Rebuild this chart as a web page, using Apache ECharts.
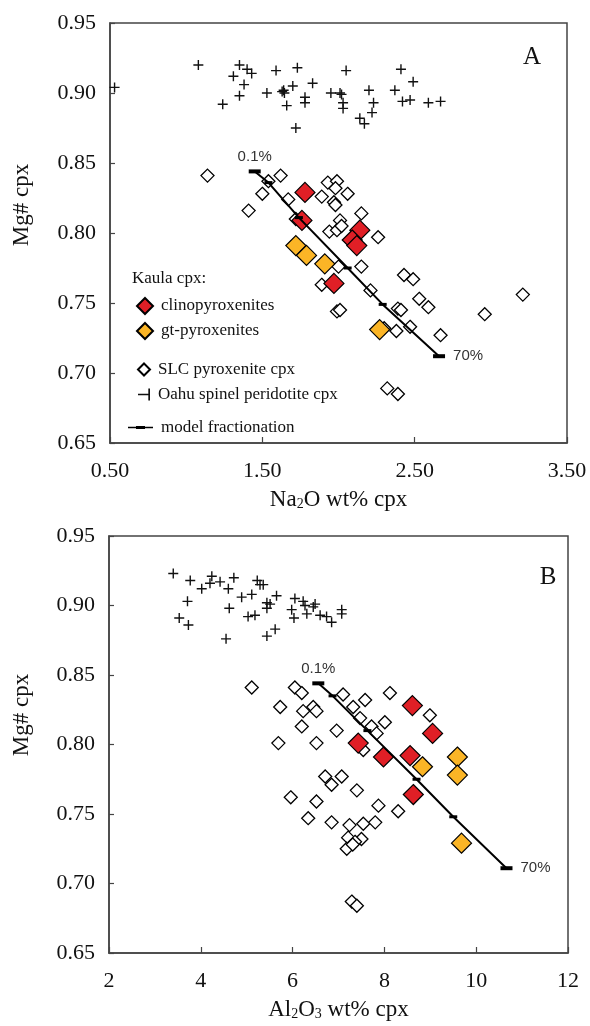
<!DOCTYPE html>
<html>
<head>
<meta charset="utf-8">
<script src="https://cdn.jsdelivr.net/npm/echarts@6/dist/echarts.min.js"></script>
<style>
  html, body { margin: 0; padding: 0; background: #fff; }
  #main { width: 590px; height: 1026px; }
</style>
</head>
<body>
<div id="main"></div>
<script>
// panel A: Na2O wt% cpx vs Mg# cpx
const oahuA = [
  [0.53, 0.904], [1.08, 0.920], [1.35, 0.920], [1.40, 0.917], [1.43, 0.914],
  [1.31, 0.912], [1.38, 0.906], [1.35, 0.898], [1.24, 0.892], [1.59, 0.916],
  [1.73, 0.918], [1.53, 0.900], [1.63, 0.901], [1.645, 0.900], [1.64, 0.902],
  [1.70, 0.905], [1.66, 0.891], [1.78, 0.897], [1.78, 0.893], [1.83, 0.907],
  [1.72, 0.875], [1.95, 0.900], [2.01, 0.900], [2.02, 0.899], [2.03, 0.893],
  [2.03, 0.889], [2.05, 0.916], [2.20, 0.902], [2.23, 0.893], [2.22, 0.886],
  [2.14, 0.882], [2.17, 0.878], [2.41, 0.917], [2.49, 0.908], [2.37, 0.902],
  [2.42, 0.894], [2.47, 0.895], [2.59, 0.893], [2.67, 0.894]
];
const slcA = [
  [1.14, 0.841], [1.62, 0.841], [1.54, 0.837], [1.50, 0.828], [1.41, 0.816],
  [1.67, 0.824], [1.72, 0.810], [1.93, 0.836], [1.99, 0.837], [1.98, 0.832],
  [1.89, 0.826], [2.06, 0.828], [1.97, 0.822], [1.98, 0.820], [2.15, 0.814],
  [2.01, 0.809], [1.94, 0.801], [1.99, 0.802], [2.02, 0.805], [2.26, 0.797],
  [2.15, 0.776], [2.00, 0.776], [2.43, 0.770], [2.49, 0.767], [1.89, 0.763],
  [2.21, 0.759], [2.53, 0.753], [2.59, 0.747], [1.99, 0.744], [2.01, 0.745],
  [2.39, 0.746], [2.41, 0.745], [2.96, 0.742], [3.21, 0.756], [2.30, 0.732],
  [2.38, 0.730], [2.47, 0.733], [2.67, 0.727], [2.32, 0.689], [2.39, 0.685]
];
const clinoA = [
  [1.78, 0.829], [1.76, 0.809], [2.14, 0.802], [2.09, 0.795], [2.12, 0.791], [1.97, 0.764]
];
const gtA = [
  [1.72, 0.791], [1.79, 0.784], [1.91, 0.778], [2.27, 0.731]
];
const modelA = [
  [1.45, 0.844], [1.54, 0.836], [1.74, 0.811], [2.06, 0.775], [2.29, 0.749], [2.66, 0.712]
];

// panel B: Al2O3 wt% cpx vs Mg# cpx
const oahuB = [
  [3.40, 0.923], [3.77, 0.918], [4.02, 0.912], [4.24, 0.921], [4.20, 0.916],
  [4.42, 0.917], [4.60, 0.912], [4.72, 0.920], [5.23, 0.918], [5.29, 0.915],
  [5.36, 0.915], [4.89, 0.906], [5.11, 0.908], [5.65, 0.907], [3.71, 0.903],
  [4.62, 0.898], [3.53, 0.891], [3.73, 0.886], [4.55, 0.876], [5.03, 0.892],
  [5.18, 0.893], [5.44, 0.902], [5.51, 0.901], [5.44, 0.898], [5.44, 0.878],
  [5.62, 0.883], [6.05, 0.905], [6.23, 0.903], [6.27, 0.900], [6.49, 0.901],
  [6.45, 0.899], [5.98, 0.897], [6.03, 0.891], [6.31, 0.894], [6.60, 0.893],
  [6.74, 0.892], [6.85, 0.888], [7.07, 0.897], [7.07, 0.894]
];
const slcB = [
  [5.11, 0.841], [6.05, 0.841], [6.20, 0.837], [5.73, 0.827], [6.23, 0.824],
  [6.45, 0.827], [6.52, 0.824], [6.20, 0.813], [5.69, 0.801], [6.52, 0.801],
  [6.96, 0.810], [7.10, 0.836], [7.58, 0.832], [8.12, 0.837], [7.32, 0.827],
  [7.47, 0.819], [7.72, 0.813], [7.83, 0.808], [8.01, 0.816], [8.99, 0.821],
  [7.54, 0.796], [6.71, 0.777], [7.07, 0.777], [6.85, 0.771], [7.40, 0.767],
  [5.96, 0.762], [6.52, 0.759], [6.34, 0.747], [6.85, 0.744], [7.24, 0.742],
  [7.54, 0.743], [7.87, 0.756], [7.80, 0.744], [8.30, 0.752], [7.21, 0.733],
  [7.50, 0.732], [7.36, 0.730], [7.18, 0.725], [7.31, 0.728], [7.29, 0.687],
  [7.40, 0.684]
];
const clinoB = [
  [8.61, 0.828], [9.05, 0.808], [7.43, 0.801], [7.98, 0.791], [8.56, 0.792], [8.63, 0.764]
];
const gtB = [
  [8.83, 0.784], [9.59, 0.791], [9.59, 0.778], [9.68, 0.729]
];
const modelB = [
  [6.56, 0.844], [6.87, 0.835], [7.63, 0.810], [8.70, 0.775], [9.50, 0.748], [10.66, 0.711]
];
const modelEnds = ['0.1%', '70%'];

const serif = 'Liberation Serif';
const sans = 'Liberation Sans';
const frame = '#444';
const plusPath = 'path://M4.3,0H5.7V4.3H10V5.7H5.7V10H4.3V5.7H0V4.3H4.3Z';
const oahuIcon = 'path://M0,4.3H9V5.7H0Z M8.6,0H10V10H8.6Z';
const modelIcon = 'path://M0,0.7H25V2.3H0Z M8,0H17V3H8Z';

function xAxis(idx, min, max, interval, digits, name) {
  return {
    gridIndex: idx, type: 'value', min: min, max: max, interval: interval,
    name: name, nameLocation: 'middle', nameGap: 45,
    nameTextStyle: {
      fontFamily: serif, fontSize: 23, color: '#111',
      rich: { s: { fontFamily: serif, fontSize: 14, color: '#111', verticalAlign: 'bottom' } }
    },
    axisLine: { show: true, lineStyle: { color: frame, width: 1.5 } },
    axisTick: { show: true, inside: true, length: 6, lineStyle: { color: frame, width: 1.2 } },
    axisLabel: { margin: 17, fontFamily: serif, fontSize: 22, color: '#111',
      formatter: v => v.toFixed(digits) },
    splitLine: { show: false }
  };
}
function yAxis(idx) {
  return {
    gridIndex: idx, type: 'value', min: 0.65, max: 0.95, interval: 0.05,
    axisLine: { show: true, lineStyle: { color: frame, width: 1.5 } },
    axisTick: { show: true, inside: true, length: 5, lineStyle: { color: frame, width: 1.2 } },
    axisLabel: { margin: 14, fontFamily: serif, fontSize: 22, color: '#111',
      formatter: v => v.toFixed(2) },
    splitLine: { show: false }
  };
}
function modelData(pts) {
  const n = pts.length;
  return pts.map((p, i) => {
    const end = i === 0 || i === n - 1;
    const item = { value: p, symbolSize: end ? [12, 4] : [8, 3] };
    if (end) {
      item.label = {
        show: true, formatter: i === 0 ? modelEnds[0] : modelEnds[1],
        position: i === 0 ? 'top' : 'right', distance: i === 0 ? 5 : 8,
        fontFamily: sans, fontSize: 15, color: '#333'
      };
    }
    return item;
  });
}
function panelSeries(idx, slc, oahu, gt, clino, model) {
  return [
    { name: 'SLC pyroxenite cpx', type: 'scatter', xAxisIndex: idx, yAxisIndex: idx,
      data: slc, symbol: 'diamond', symbolSize: 13, z: 2,
      itemStyle: { color: '#fff', borderColor: '#000', borderWidth: 1.3, opacity: 1 } },
    { name: 'Oahu spinel peridotite cpx', type: 'scatter', xAxisIndex: idx, yAxisIndex: idx,
      data: oahu, symbol: plusPath, symbolSize: 10, z: 2,
      itemStyle: { color: '#111', opacity: 1 } },
    { name: 'gt-pyroxenites', type: 'scatter', xAxisIndex: idx, yAxisIndex: idx,
      data: gt, symbol: 'diamond', symbolSize: 20, z: 3,
      itemStyle: { color: '#fbb526', borderColor: '#000', borderWidth: 1.2, opacity: 1 } },
    { name: 'clinopyroxenites', type: 'scatter', xAxisIndex: idx, yAxisIndex: idx,
      data: clino, symbol: 'diamond', symbolSize: 20, z: 3,
      itemStyle: { color: '#e01f26', borderColor: '#000', borderWidth: 1.2, opacity: 1 } },
    { name: 'model fractionation', type: 'line', xAxisIndex: idx, yAxisIndex: idx,
      data: modelData(model), symbol: 'rect', showSymbol: true, z: 4,
      lineStyle: { color: '#000', width: 2 }, itemStyle: { color: '#000' } }
  ];
}

const legendText = { fontFamily: serif, fontSize: 17, color: '#111', padding: [0, 0, 0, 3] };

const chart = echarts.init(document.getElementById('main'), null, { renderer: 'canvas' });
chart.setOption({
  backgroundColor: '#fff',
  animation: false,
  grid: [
    { left: 110, top: 23, width: 457, height: 420, show: true, borderColor: frame, borderWidth: 1.5 },
    { left: 109, top: 536, width: 459, height: 417, show: true, borderColor: frame, borderWidth: 1.5 }
  ],
  xAxis: [
    xAxis(0, 0.5, 3.5, 1, 2, 'Na{s|2}O wt% cpx'),
    xAxis(1, 2, 12, 2, 0, 'Al{s|2}O{s|3} wt% cpx')
  ],
  yAxis: [yAxis(0), yAxis(1)],
  legend: [
    { orient: 'vertical', left: 131, top: 292, itemWidth: 16, itemHeight: 16, itemGap: 7,
      textStyle: legendText, selectedMode: false,
      data: ['clinopyroxenites', 'gt-pyroxenites'] },
    { orient: 'vertical', left: 132, top: 356, itemWidth: 12, itemHeight: 12, itemGap: 8,
      textStyle: legendText, selectedMode: false,
      data: [{ name: 'SLC pyroxenite cpx' }, { name: 'Oahu spinel peridotite cpx', icon: oahuIcon }] },
    { orient: 'vertical', left: 123, top: 414, itemWidth: 25, itemHeight: 3,
      textStyle: legendText, selectedMode: false,
      data: [{ name: 'model fractionation', icon: modelIcon }] }
  ],
  graphic: [
    { type: 'text', left: 132, top: 270, style: { text: 'Kaula cpx:', font: '17px "Liberation Serif"', fill: '#111' } },
    { type: 'text', x: 532, y: 57, style: { text: 'A', font: '25px "Liberation Serif"', fill: '#111', align: 'center', verticalAlign: 'middle' } },
    { type: 'text', x: 548, y: 577, style: { text: 'B', font: '25px "Liberation Serif"', fill: '#111', align: 'center', verticalAlign: 'middle' } },
    { type: 'text', x: 22, y: 205, rotation: Math.PI / 2, style: { text: 'Mg# cpx', font: '23px "Liberation Serif"', fill: '#111', align: 'center', verticalAlign: 'middle' } },
    { type: 'text', x: 22, y: 715, rotation: Math.PI / 2, style: { text: 'Mg# cpx', font: '23px "Liberation Serif"', fill: '#111', align: 'center', verticalAlign: 'middle' } }
  ],
  series: [
    ...panelSeries(0, slcA, oahuA, gtA, clinoA, modelA),
    ...panelSeries(1, slcB, oahuB, gtB, clinoB, modelB)
  ]
});
</script>
</body>
</html>
